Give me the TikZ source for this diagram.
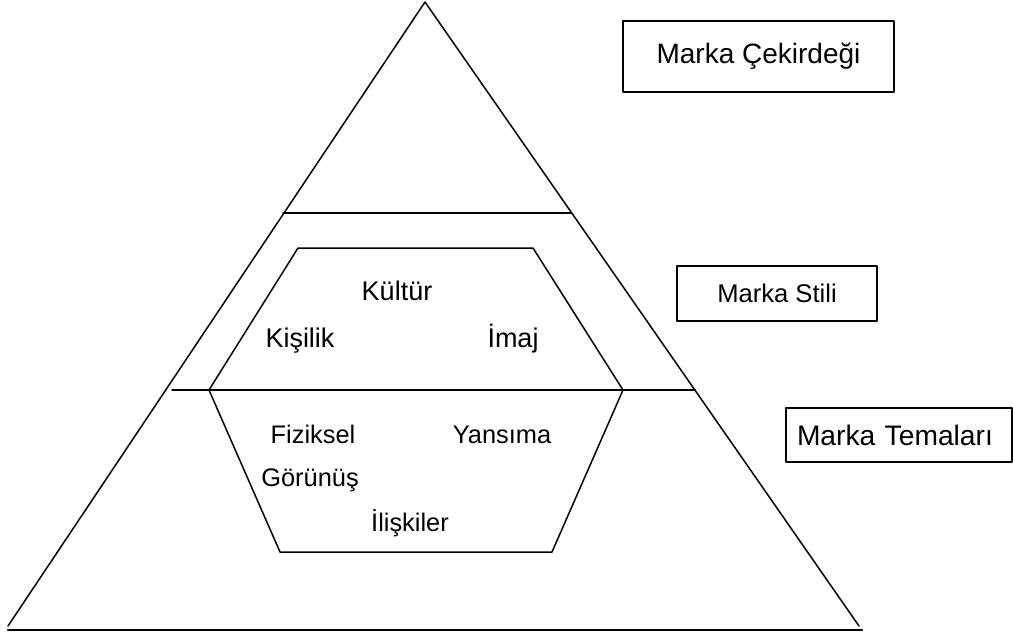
\documentclass[tikz,border=0pt]{standalone}
\usepackage{fontspec}
\setmainfont{Liberation Sans}
\begin{document}
\begin{tikzpicture}[x=0.5pt,y=-0.5pt,line join=round,line cap=round]
	\tikzset{
		cizgi/.style={line width=0.75pt},
		kutu/.style={draw,line width=0.75pt,inner sep=0pt},
		etiket/.style={inner sep=0pt,anchor=base,font=\fontsize{12.7}{14}\selectfont},
		buyuketiket/.style={etiket,font=\fontsize{13.5}{15}\selectfont},
	}
	\useasboundingbox (0,0) rectangle (1013,637);
	
	% --- Piramit ---
	\coordinate (tepe) at (425,2);
	\coordinate (solalt) at (8,626);
	\coordinate (sagalt) at (859,626);
	\draw[cizgi] (solalt)--(tepe)--(sagalt);
	\draw[line width=1.1pt] (8,630)--(862,630);
	
	% --- Katmanlar ---
	\draw[cizgi] (283,213)--(571,213);
	\draw[cizgi] (172,390)--(695,390);
	
	% --- Altıgen ---
	\draw[cizgi] (209,390)--(298,248)--(533,248)--(623,390)--(552,552)--(280,552)--cycle;
	
	% --- Marka stili öğeleri ---
	\node[buyuketiket] (kultur) at (397,300) {Kültür};
	\node[buyuketiket] (kisilik) at (300,347) {Kişilik};
	\node[buyuketiket] (imaj) at (513,347) {İmaj};
	
	% --- Marka temaları öğeleri ---
	\node[etiket] (fiziksel) at (313,443) {Fiziksel};
	\node[etiket] (yansima) at (502,443) {Yansıma};
	\node[etiket] (gorunus) at (310,486) {Görünüş};
	\node[etiket] (iliskiler) at (410,531) {İlişkiler};
	
	% --- Kutular ---
	\node[kutu,minimum width=135.5pt,minimum height=35.5pt,font=\fontsize{14}{16}\selectfont] (cekirdek) at (758.5,56.5) {Marka Çekirdeği};
	\node[kutu,minimum width=100pt,minimum height=27.5pt,font=\fontsize{12.8}{14}\selectfont] (stil) at (777,293.5) {Marka Stili};
	\node[kutu,minimum height=27pt,text width=102pt,inner xsep=5.5pt,align=left,font=\fontsize{14.1}{16}\selectfont] (temalar) at (899,435) {Marka Temaları};
\end{tikzpicture}
\end{document}
